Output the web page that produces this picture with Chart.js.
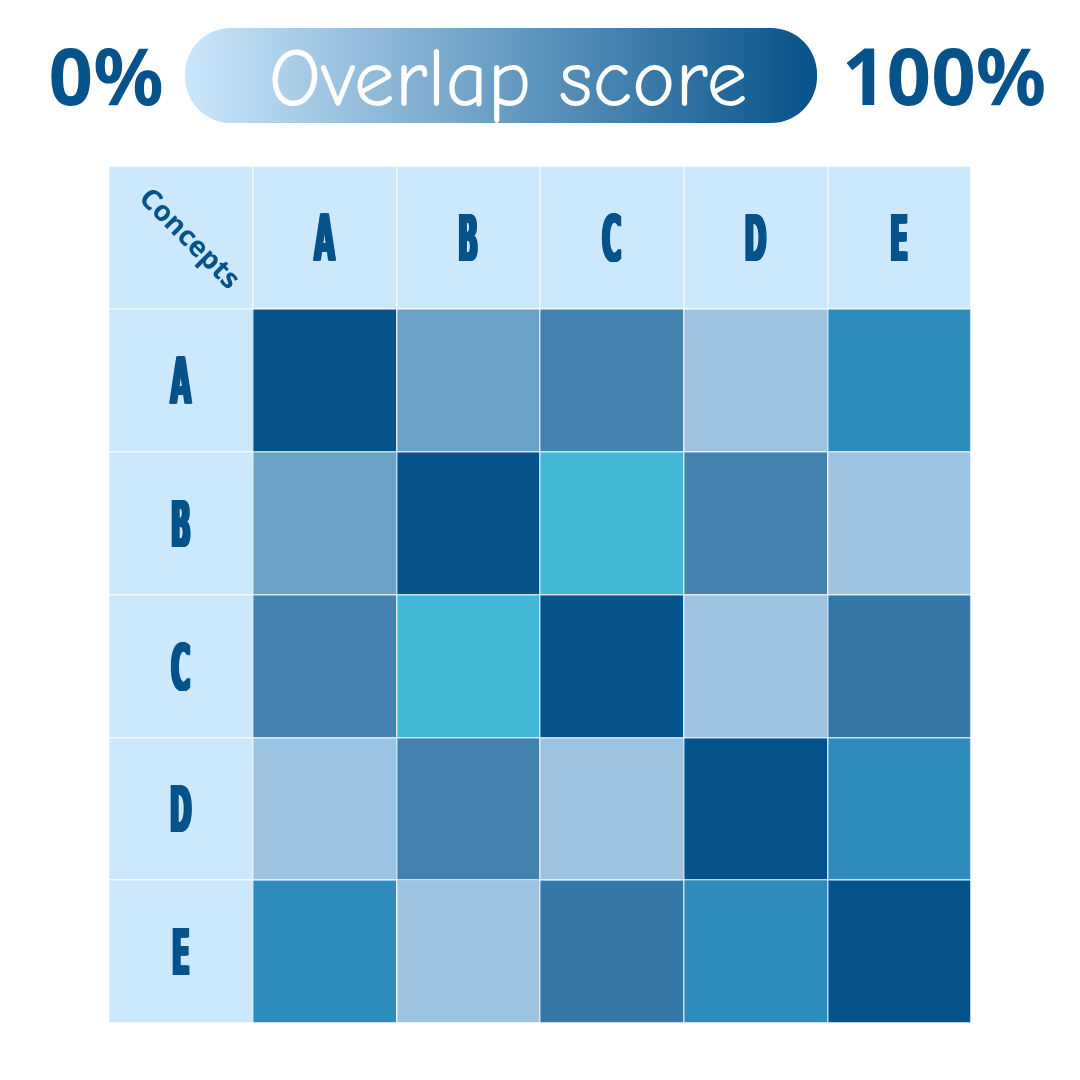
<!DOCTYPE html>
<html>
<head>
<meta charset="utf-8">
<script src="https://cdn.jsdelivr.net/npm/chart.js@4/dist/chart.umd.min.js"></script>
<style>
  html, body { margin: 0; padding: 0; background: #ffffff; }
  #wrap { width: 1080px; height: 1080px; }
</style>
</head>
<body>
<div id="wrap"><canvas id="c" width="1080" height="1080"></canvas></div>
<script>
// ---- Data ----
const concepts = ['A', 'B', 'C', 'D', 'E'];
const cornerLabel = 'Concepts';
const rowA = [100, 45, 70, 20, 65];
const rowB = [45, 100, 40, 70, 20];
const rowC = [70, 40, 100, 20, 80];
const rowD = [20, 70, 20, 100, 65];
const rowE = [65, 20, 80, 65, 100];
const scaleMinLabel = '0%';
const scaleMaxLabel = '100%';
const scaleTitle = 'Overlap score';

// ---- Styles ----
const scoreLevels = [20, 40, 45, 65, 70, 80, 100];
const levelColors = ['#9dc3e3', '#42b7d6', '#6ba2c6', '#2e8bbb', '#4382ae', '#3577a6', '#06528a'];
const headerColor = '#cbe8fc';
const textColor = '#06528a';

function colorFor(v) {
  let best = 0;
  for (let i = 0; i < scoreLevels.length; i++) {
    if (Math.abs(scoreLevels[i] - v) < Math.abs(scoreLevels[best] - v)) best = i;
  }
  return levelColors[best];
}

const rows = [rowA, rowB, rowC, rowD, rowE];
const xLabels = [''].concat(concepts);

const datasets = [];
datasets.push({
  label: 'header',
  data: xLabels.map(() => [0, 1]),
  backgroundColor: xLabels.map(() => headerColor),
  borderWidth: 0
});
rows.forEach((vals, r) => {
  datasets.push({
    label: concepts[r],
    data: xLabels.map(() => [r + 1, r + 2]),
    backgroundColor: [headerColor].concat(vals.map(colorFor)),
    borderWidth: 0
  });
});

function drawCondensed(ctx, t, cx, cy) {
  ctx.save();
  ctx.font = 'bold 64px "DejaVu Sans Condensed", "DejaVu Sans", sans-serif';
  const m = ctx.measureText(t);
  const capH = m.actualBoundingBoxAscent;
  const sx = 0.46;
  ctx.translate(cx, cy + capH / 2);
  ctx.scale(sx, 1);
  ctx.fillStyle = textColor;
  ctx.textAlign = 'center';
  ctx.textBaseline = 'alphabetic';
  for (let dx = -1.5; dx <= 1.5; dx += 0.5) {
    ctx.fillText(t, dx / sx, 0);
  }
  ctx.restore();
}

const decor = {
  id: 'decor',
  beforeDraw(chart) {
    const ctx = chart.ctx;
    ctx.save();
    const x0 = 185, x1 = 817, y0 = 28, y1 = 123, r = 46;
    const g = ctx.createLinearGradient(x0, 0, x1, 0);
    g.addColorStop(0, '#cbe7fc');
    g.addColorStop(1, '#06528a');
    ctx.fillStyle = g;
    ctx.beginPath();
    ctx.roundRect(x0, y0, x1 - x0, y1 - y0, r);
    ctx.fill();
    ctx.fillStyle = '#ffffff';
    ctx.font = '82px "Comic Neue", "Comic Sans MS", Lato, sans-serif';
    ctx.textAlign = 'center';
    ctx.textBaseline = 'alphabetic';
    ctx.fillText(scaleTitle, 508, 106, 480);
    ctx.fillStyle = textColor;
    ctx.font = 'bold 78px "Noto Sans", sans-serif';
    ctx.fillText(scaleMinLabel, 106, 105);
    ctx.fillText(scaleMaxLabel, 944, 105);
    ctx.restore();
  },
  afterDraw(chart) {
    const ctx = chart.ctx;
    const x = chart.scales.x, y = chart.scales.y;
    concepts.forEach((c, i) => {
      drawCondensed(ctx, c, x.getPixelForValue(i + 1), y.getPixelForValue(0.5));
      drawCondensed(ctx, c, x.getPixelForValue(0), y.getPixelForValue(i + 1.5));
    });
    ctx.save();
    ctx.translate(x.getPixelForValue(0) + 8, y.getPixelForValue(0.5) + 2);
    ctx.rotate(Math.PI / 4);
    ctx.fillStyle = textColor;
    ctx.font = 'bold 28px "Noto Sans", sans-serif';
    ctx.textAlign = 'center';
    ctx.textBaseline = 'middle';
    ctx.fillText(cornerLabel, 0, 0);
    ctx.restore();
  }
};

new Chart(document.getElementById('c'), {
  type: 'bar',
  data: { labels: xLabels, datasets: datasets },
  options: {
    responsive: false,
    animation: false,
    events: [],
    layout: { padding: { left: 109, right: 109, top: 166, bottom: 57 } },
    datasets: { bar: { categoryPercentage: 1, barPercentage: 1 } },
    plugins: { legend: { display: false }, tooltip: { enabled: false } },
    scales: {
      x: {
        type: 'category',
        stacked: true,
        offset: true,
        grid: { offset: true, color: 'rgba(255,255,255,0.75)', lineWidth: 1.5, drawTicks: false, z: 1 },
        border: { display: false },
        ticks: { display: false }
      },
      y: {
        type: 'linear',
        min: 0, max: 6,
        reverse: true,
        stacked: false,
        grid: { color: 'rgba(255,255,255,0.75)', lineWidth: 1.5, drawTicks: false, z: 1 },
        border: { display: false },
        ticks: { display: false, stepSize: 1 }
      }
    }
  },
  plugins: [decor]
});
</script>
</body>
</html>
